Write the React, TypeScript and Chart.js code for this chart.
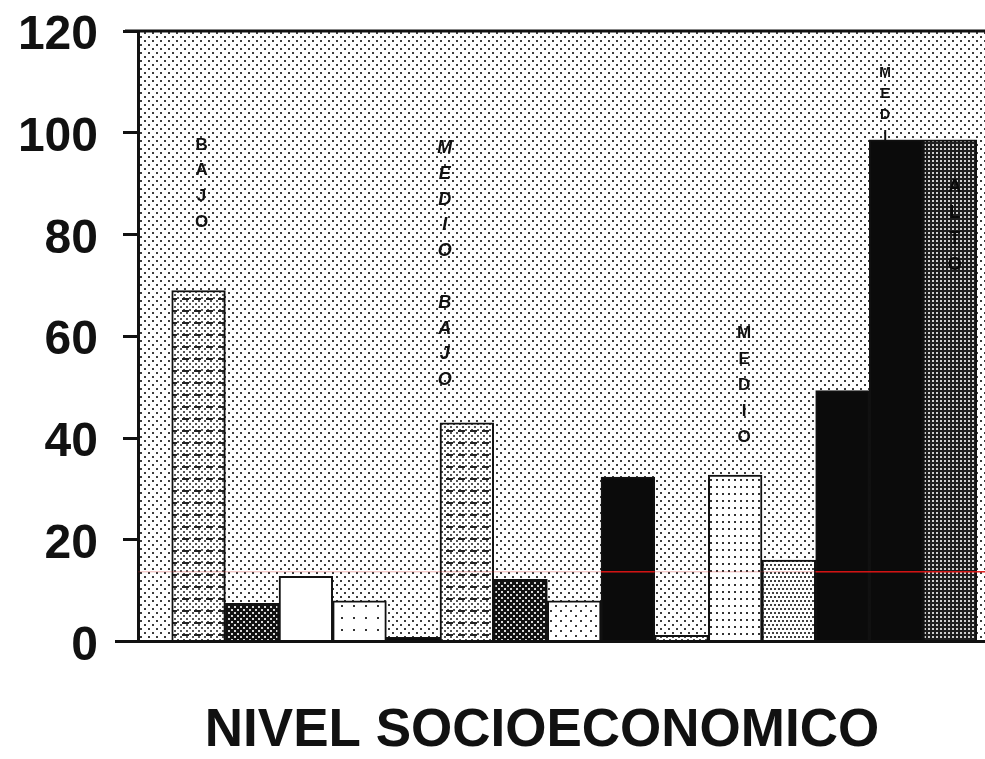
import React, { useEffect, useRef } from 'react';
import { Chart, registerables } from 'chart.js';

Chart.register(...registerables);

// ---------- data ----------
const values = [69, 7.5, 12.8, 8, 0.8, 43, 12.2, 8, 32.3, 1.2, 32.7, 16, 49.3, 98.6, 98.6];
const yTicks = [0, 20, 40, 60, 80, 100, 120];
const axisTitle = 'NIVEL SOCIOECONOMICO';
const barLabels = [
  { bar: 1, text: 'BAJO' },
  { bar: 6, text: 'MEDIO BAJO' },
  { bar: 11, text: 'MEDIO' },
  { bar: 14, text: 'MEDI' },
  { bar: 15, text: 'ALTO' },
];
const redLineValue = 13.7;

// ---------- styling ----------
const FONT = '"Liberation Sans", Arial, sans-serif';
const CANVAS_W = 1090;
const CANVAS_H = 759;
const barFills = [
  'dash', 'dark', 'white', 'sparse', 'black',
  'dash', 'dark', 'sparse2', 'black', 'dash',
  'grid', 'stipple', 'black', 'black', 'darkgray',
];
const labelStyle = [
  { dx: 3, top: 97.6, step: 25.7, font: `bold 17px ${FONT}`, color: '#111' },
  { dx: -22, top: 97, step: 25.8, font: `italic bold 18px ${FONT}`, color: '#111' },
  { dx: 9, top: 60.6, step: 26, font: `bold 17px ${FONT}`, color: '#111' },
  { dx: -11, top: 111.7, step: 21, font: `bold 14px ${FONT}`, color: '#111' },
  { dx: 5, top: 89.3, step: 26, font: `bold 18px ${FONT}`, color: '#0a0a0a' },
];

function makePattern(ctx: CanvasRenderingContext2D, w: number, h: number, draw: (g: CanvasRenderingContext2D) => void) {
  const c = document.createElement('canvas');
  c.width = w;
  c.height = h;
  const g = c.getContext('2d') as CanvasRenderingContext2D;
  draw(g);
  return ctx.createPattern(c, 'repeat') as CanvasPattern;
}

function buildPatterns(ctx: CanvasRenderingContext2D) {
  const dots = (g: CanvasRenderingContext2D, pts: number[][], color: string, s = 2) => {
    g.fillStyle = color;
    pts.forEach(([x, y]) => g.fillRect(x, y, s, s));
  };
  const bg = makePattern(ctx, 8, 8, (g) => {
    g.fillStyle = '#fff';
    g.fillRect(0, 0, 8, 8);
    dots(g, [[0, 0], [4, 4]], '#3c3c3c');
  });
  const p: Record<string, CanvasPattern | string> = {
    white: '#ffffff',
    black: '#0b0b0b',
    dash: makePattern(ctx, 12, 12, (g) => {
      g.fillStyle = '#fff';
      g.fillRect(0, 0, 12, 12);
      dots(g, [[0, 0], [6, 0], [3, 3], [9, 3], [0, 6], [6, 6], [3, 9], [9, 9]], '#555');
      g.fillStyle = '#222';
      g.fillRect(2, 10, 7, 2);
    }),
    dark: makePattern(ctx, 6, 6, (g) => {
      g.fillStyle = '#111';
      g.fillRect(0, 0, 6, 6);
      dots(g, [[0, 0], [3, 3]], '#d8d8d8');
    }),
    sparse: makePattern(ctx, 12, 12, (g) => {
      g.fillStyle = '#fff';
      g.fillRect(0, 0, 12, 12);
      dots(g, [[5, 5]], '#333');
    }),
    sparse2: makePattern(ctx, 10, 10, (g) => {
      g.fillStyle = '#fff';
      g.fillRect(0, 0, 10, 10);
      dots(g, [[0, 0], [5, 5]], '#3a3a3a');
    }),
    grid: makePattern(ctx, 6, 7, (g) => {
      g.fillStyle = '#fff';
      g.fillRect(0, 0, 6, 7);
      dots(g, [[2, 3]], '#333');
    }),
    stipple: makePattern(ctx, 8, 8, (g) => {
      g.fillStyle = '#fff';
      g.fillRect(0, 0, 8, 8);
      dots(g, [[0, 0], [4, 0], [2, 4], [6, 4]], '#404040');
    }),
    darkgray: makePattern(ctx, 4, 4, (g) => {
      g.fillStyle = '#1e1e1e';
      g.fillRect(0, 0, 4, 4);
      dots(g, [[0, 0]], '#cfcfcf');
    }),
  };
  return { bg, p };
}

export default function App() {
  const ref = useRef<HTMLCanvasElement | null>(null);

  useEffect(() => {
    document.body.style.overflow = 'hidden';
    const canvas = ref.current as HTMLCanvasElement;
    const ctx = canvas.getContext('2d') as CanvasRenderingContext2D;
    const { bg, p } = buildPatterns(ctx);

    const decor = {
      id: 'decor',
      beforeDraw(chart: any) {
        const { ctx: c, chartArea: a } = chart;
        c.save();
        c.fillStyle = '#fff';
        c.fillRect(0, 0, chart.width, chart.height);
        c.fillStyle = bg;
        c.fillRect(a.left, a.top, a.right - a.left, a.bottom - a.top);
        c.restore();
      },
      afterDatasetsDraw(chart: any) {
        const { ctx: c, chartArea: a } = chart;
        const xs = chart.scales.x;
        const ys = chart.scales.y;
        c.save();
        // red scan line
        const ry = ys.getPixelForValue(redLineValue);
        c.strokeStyle = 'rgba(210,40,40,0.35)';
        c.lineWidth = 1;
        c.beginPath();
        c.moveTo(a.left, ry);
        c.lineTo(a.right, ry);
        c.stroke();
        c.strokeStyle = 'rgba(225,20,20,0.9)';
        c.lineWidth = 1.5;
        [[8.5, 9.5], [12.5, 17.5]].forEach(([s, e]) => {
          c.beginPath();
          c.moveTo(xs.getPixelForValue(s), ry);
          c.lineTo(xs.getPixelForValue(e), ry);
          c.stroke();
        });
        // frame lines
        c.strokeStyle = '#111';
        c.lineWidth = 3;
        c.beginPath();
        c.moveTo(a.left - 13, a.top);
        c.lineTo(a.right, a.top);
        c.moveTo(a.left - 23, a.bottom);
        c.lineTo(a.right, a.bottom);
        c.stroke();
        // vertical labels
        c.textAlign = 'center';
        c.textBaseline = 'middle';
        barLabels.forEach((lab, i) => {
          const st = labelStyle[i];
          const x = xs.getPixelForValue(lab.bar) + st.dx;
          const y0 = ys.getPixelForValue(st.top);
          c.font = st.font;
          c.fillStyle = st.color;
          lab.text.split('').forEach((ch, k) => {
            if (ch.trim()) c.fillText(ch, x, y0 + k * st.step);
          });
        });
        c.restore();
      },
    };

    const chart = new Chart(ctx, {
      type: 'bar',
      data: {
        datasets: [
          {
            data: values.map((v, i) => ({ x: i + 1, y: v })),
            backgroundColor: barFills.map((f) => p[f]) as any,
            borderColor: '#111',
            borderWidth: 2,
            barPercentage: 1,
            categoryPercentage: 1,
          },
        ],
      },
      options: {
        animation: false,
        responsive: false,
        events: [],
        layout: { autoPadding: false, padding: { top: 31, right: 6, bottom: 1.5, left: 0 } },
        plugins: {
          legend: { display: false },
          tooltip: { enabled: false },
          title: {
            display: true,
            position: 'bottom',
            text: axisTitle,
            color: '#111',
            font: { family: FONT, size: 53, weight: 'bold', lineHeight: 1 },
            padding: { top: 63, bottom: 0 },
          },
        },
        scales: {
          x: {
            type: 'linear',
            min: -0.128,
            max: 17.5,
            offset: false,
            display: false,
          },
          y: {
            min: 0,
            max: 120,
            afterFit: (s: any) => {
              s.width = 138;
            },
            ticks: {
              stepSize: 20,
              color: '#111',
              padding: 25,
              labelOffset: 5,
              autoSkip: false,
              font: { family: FONT, size: 48, weight: 'bold', lineHeight: 0.2 },
              callback: (v: any) => (yTicks.includes(Number(v)) ? String(v) : ''),
            },
            grid: {
              drawOnChartArea: false,
              drawTicks: true,
              tickLength: 15,
              color: '#111',
              lineWidth: 3,
            },
            border: { display: true, color: '#111', width: 3 },
          },
        },
      } as any,
      plugins: [decor],
    });

    return () => {
      chart.destroy();
    };
  }, []);

  return (
    <div style={{ position: 'fixed', left: 0, top: 0, width: CANVAS_W, height: CANVAS_H, background: '#fff' }}>
      <canvas ref={ref} width={CANVAS_W} height={CANVAS_H} style={{ display: 'block' }} />
    </div>
  );
}
